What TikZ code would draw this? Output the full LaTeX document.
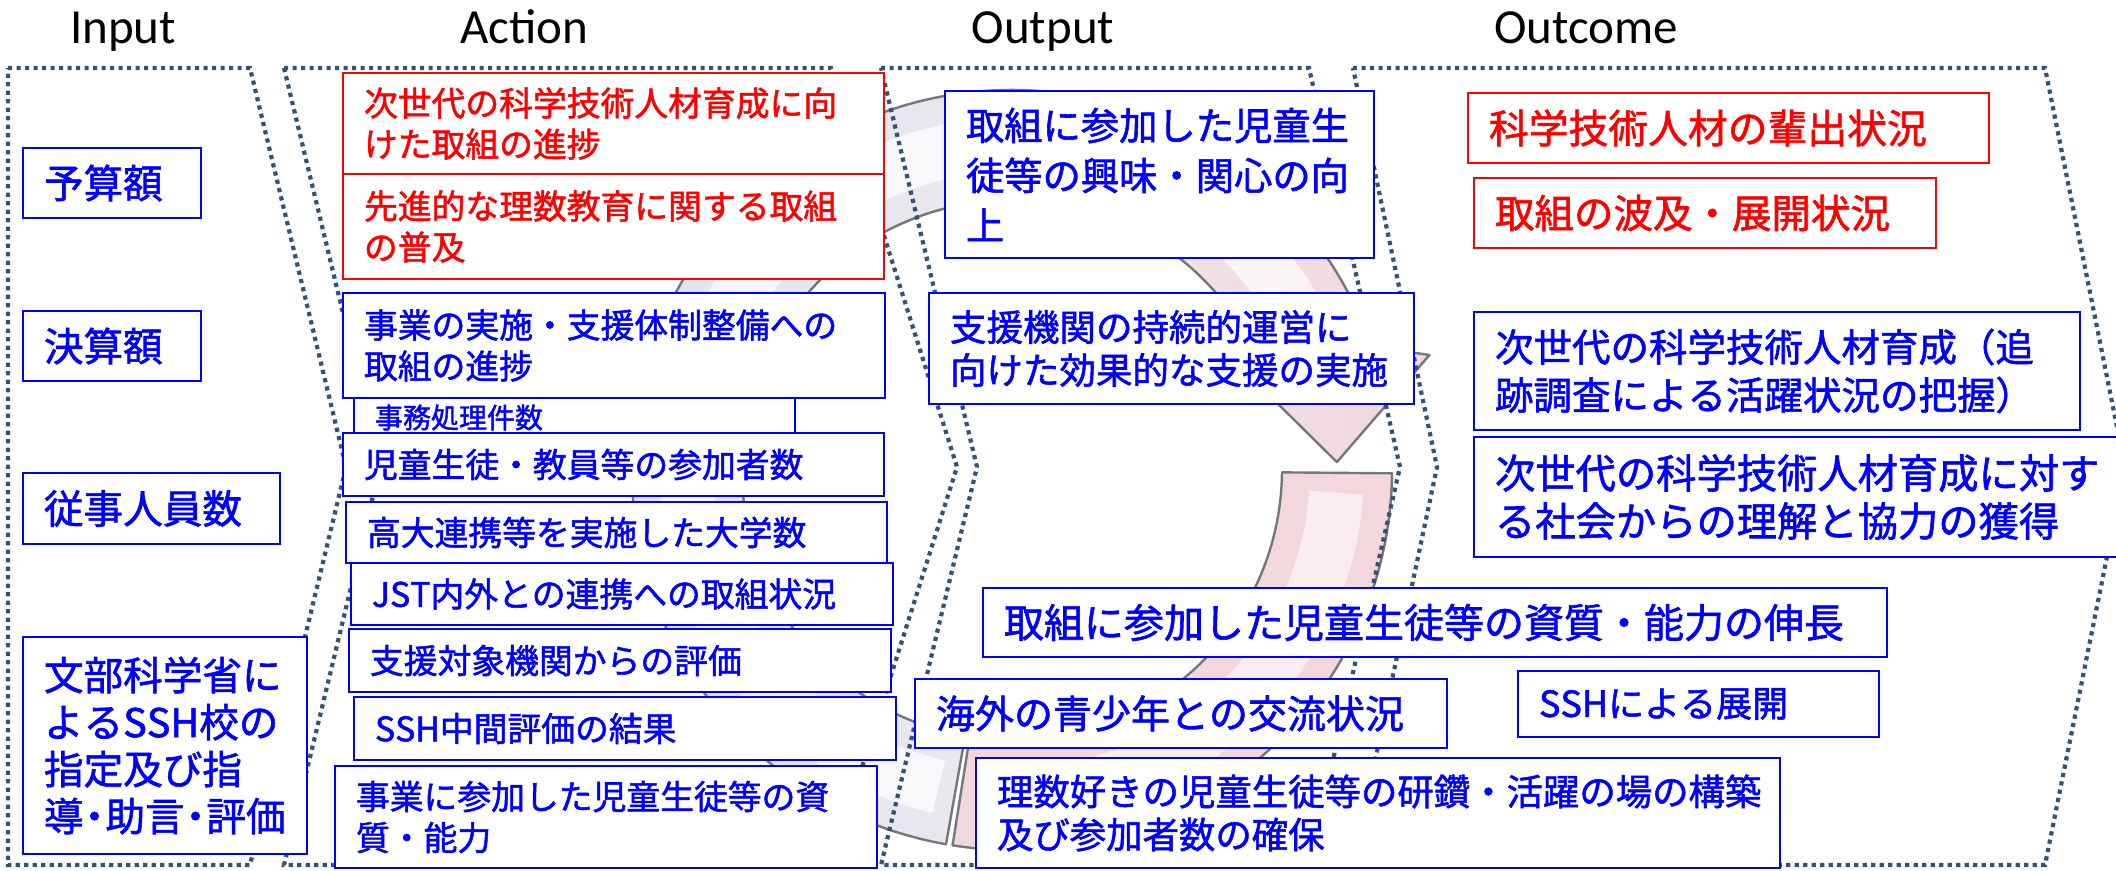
\documentclass[tikz,border=0pt]{standalone}
\usepackage{fontspec}
\setmainfont{Carlito}
\newfontfamily\jp[FakeBold=1.5, Kerning=Off]{Noto Sans CJK JP}
% middle dot with the advance of one kanji
\newcommand\ct{\makebox[\fontcharwd\font`\字][c]{・}}
% narrower middle dot
\newcommand\cn{\makebox[0.55em][c]{・}}
\definecolor{jblue}{RGB}{0,0,255}
\definecolor{jred}{RGB}{255,0,0}
\definecolor{dotc}{RGB}{52,82,118}
\definecolor{ringsilver}{RGB}{222,226,238}
\definecolor{ringmid}{RGB}{236,232,238}
\definecolor{ringpink}{RGB}{242,216,220}
\definecolor{ringedge}{RGB}{118,118,124}

\tikzset{
  panel/.style={draw=dotc, line width=4.2pt, dash pattern=on 4.2pt off 4.3pt},
  ringseg/.style={draw=ringedge, line width=2.4pt, line join=round},
  boxbase/.style={anchor=north west, fill=white, line width=2.4pt, inner xsep=21pt,
                  inner ysep=0pt, outer sep=0pt, align=left},
  bluebox/.style={boxbase, draw=jblue, text=jblue},
  redbox/.style={boxbase, draw=jred, text=jred},
  sz/.style n args={3}{minimum width=#1pt, minimum height=#2pt, text width=#3pt},
  fs/.style 2 args={font=\jp\fontsize{#1}{#2}\selectfont},
  ttl/.style={anchor=base, font=\fontsize{49}{55}\selectfont},
}

\begin{document}
\begin{tikzpicture}[x=1pt, y=-1pt]
\useasboundingbox (0,0) rectangle (2116,870);
\clip (0,0) rectangle (2116,870);

% column headings
\node[ttl] (tIn)  at (123,43)  {Input};
\node[ttl] (tAct) at (524,43)  {Action};
\node[ttl] (tOut) at (1043,43) {Output};
\node[ttl] (tOc)  at (1586,43) {Outcome};

% circular arrow in the background
\begin{scope}[shift={(1012,470)}]
  \shadedraw[ringseg, left color=ringsilver, right color=ringpink, middle color=ringmid]
    (100:380) arc[start angle=100, end angle=341, radius=380]
    -- (344.6:433) -- (358.6:325) -- (336.5:252) -- (340:270)
    arc[start angle=340, end angle=100, radius=270] -- cycle;
  \draw[white, opacity=0.7, line width=54pt]
    (103:325) arc[start angle=103, end angle=336, radius=325];
  \filldraw[ringseg, fill=ringpink]
    (0.5:270) -- (0.5:380) arc[start angle=0.5, end angle=99, radius=380]
    -- (99:270) arc[start angle=99, end angle=0.5, radius=270] -- cycle;
  \draw[white, opacity=0.55, line width=54pt]
    (4:325) arc[start angle=4, end angle=96, radius=325];
\end{scope}

% dotted chevron panels
\draw[panel] (8,68) -- (250,68) -- (346,467) -- (250,865) -- (8,865) -- cycle;
\draw[panel] (284,68) -- (831,68) -- (957,467) -- (831,865) -- (284,865) -- (380,467) -- cycle;
\draw[panel] (881,68) -- (1309,68) -- (1400,467) -- (1309,865) -- (881,865) -- (977,467) -- cycle;
\draw[panel] (1353,68) -- (2045,68) -- (2125,467) -- (2045,865) -- (1353,865) -- (1437,467) -- cycle;

% Input
\node[bluebox, sz={178}{70}{136}, fs={39.6}{47}] (in1) at (23,148) {予算額};
\node[bluebox, sz={178}{70}{136}, fs={39.6}{47}] (in2) at (23,311) {決算額};
\node[bluebox, sz={257}{71}{215}, fs={39.6}{47}] (in3) at (23,473) {従事人員数};
\node[bluebox, sz={284}{217}{242}, fs={39.6}{47}] (in4) at (23,637)
  {文部科学省に\\よるSSH校の\\指定及び指\\導\cn 助言\cn 評価};

% Action
\node[bluebox, sz={441}{65}{399}, fs={28}{34}] (ac4) at (354,385) {事務処理件数};
\node[redbox,  sz={541}{101}{499}, fs={33.8}{41}] (ac1) at (343,73)
  {次世代の科学技術人材育成に向\\けた取組の進捗};
\node[redbox,  sz={541}{105}{499}, fs={33.8}{41}] (ac2) at (343,174)
  {先進的な理数教育に関する取組\\の普及};
\node[bluebox, sz={542}{105}{500}, fs={33.8}{41}] (ac3) at (343,293)
  {事業の実施\ct 支援体制整備への\\取組の進捗};
\node[bluebox, sz={541}{63}{499}, fs={33.8}{41}] (ac5) at (343,433) {児童生徒\ct 教員等の参加者数};
\node[bluebox, sz={541}{61}{499}, fs={33.8}{41}] (ac6) at (346,502) {高大連携等を実施した大学数};
\node[bluebox, sz={542}{62}{500}, fs={33.8}{41}] (ac7) at (351,563) {JST内外との連携への取組状況};
\node[bluebox, sz={542}{63}{500}, fs={33.8}{41}] (ac8) at (349,629) {支援対象機関からの評価};
\node[bluebox, sz={542}{63}{500}, fs={33.8}{41}] (ac9) at (354,697) {SSH中間評価の結果};
\node[bluebox, sz={542}{102}{500}, fs={33.8}{41}] (ac10) at (335,766)
  {事業に参加した児童生徒等の資\\質\ct 能力};

% Output
\node[bluebox, sz={429}{167}{387}, fs={38.3}{50}] (op1) at (945,91)
  {取組に参加した児童生\\徒等の興味\ct 関心の向\\上};
\node[bluebox, sz={485}{111}{443}, fs={36.5}{43}] (op2) at (929,293)
  {支援機関の持続的運営に\\向けた効果的な支援の実施};
\node[bluebox, sz={904}{69}{862}, fs={40}{46}] (op3) at (983,588)
  {取組に参加した児童生徒等の資質\ct 能力の伸長};
\node[bluebox, sz={532}{69}{490}, fs={39}{46}] (op4) at (915,679) {海外の青少年との交流状況};
\node[bluebox, sz={361}{66}{319}, fs={36}{44}] (op6) at (1518,671) {SSHによる展開};
\node[bluebox, sz={804}{110}{762}, fs={36.4}{43}] (op5) at (976,758)
  {理数好きの児童生徒等の研鑽\ct 活躍の場の構築\\及び参加者数の確保};

% Outcome
\node[redbox,  sz={521}{70}{479}, fs={39.8}{48}] (oc1) at (1468,93) {科学技術人材の輩出状況};
\node[redbox,  sz={462}{70}{420}, fs={39.5}{48}] (oc2) at (1474,178) {取組の波及\ct 展開状況};
\node[bluebox, sz={606}{118}{564}, fs={38.5}{48}] (oc3) at (1474,312)
  {次世代の科学技術人材育成（追\\跡調査による活躍状況の把握）};
\node[bluebox, sz={700}{120}{658}, fs={40.3}{48}] (oc4) at (1474,437)
  {次世代の科学技術人材育成に対す\\る社会からの理解と協力の獲得};
\end{tikzpicture}
\end{document}
